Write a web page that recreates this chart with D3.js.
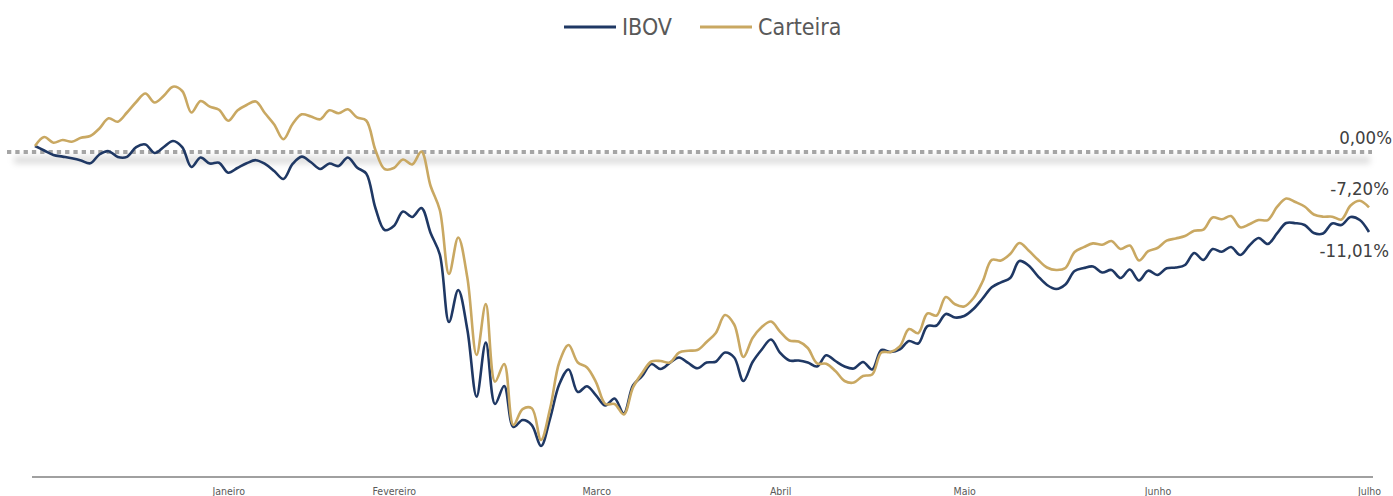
<!DOCTYPE html>
<html>
<head>
<meta charset="utf-8" />
<script src="https://d3js.org/d3.v7.min.js"></script>
<style>
  body { margin: 0; background: #fff; }
  svg text { font-family: "DejaVu Sans Condensed", "DejaVu Sans", sans-serif; font-stretch: condensed; }
</style>
</head>

<body>
<div id="chart"></div>

<script>
  // Dados (retorno acumulado em %, um ponto por pregao)
  // -----------------
  var series = ["IBOV", "Carteira"];

  var ibov = [
     0.82,  0.21, -0.41, -0.63, -0.86, -1.16, -1.55, -0.34,  0.11, -0.68,
    -0.66,  0.68,  1.03, -0.14,  0.68,  1.51,  0.68, -2.05, -0.75, -1.58,
    -1.48, -2.84, -2.19, -1.55, -1.12, -1.64, -2.60, -3.70, -1.64, -0.64,
    -1.41, -2.33, -1.58, -1.92, -0.75, -2.12, -2.95, -7.67,-10.68,-10.14,
    -8.15, -8.90, -7.67,-11.10,-14.04,-23.29,-18.90,-24.38,-33.52,-26.10,
   -34.52,-32.05,-37.67,-36.71,-37.40,-40.27,-36.44,-31.78,-29.79,-32.88,
   -32.08,-33.36,-34.73,-33.77,-35.82,-31.99,-30.68,-29.04,-29.73,-28.90,
   -28.15,-28.90,-29.63,-28.84,-28.73,-27.47,-28.15,-31.37,-28.77,-27.05,
   -25.68,-27.53,-28.56,-28.56,-28.84,-29.38,-27.84,-28.63,-29.38,-29.66,
   -28.77,-29.79,-27.12,-27.40,-27.05,-25.89,-26.23,-23.84,-23.77,-22.19,
   -22.67,-22.47,-21.51,-20.07,-18.53,-17.85,-17.26,-14.93,-15.55,-16.99,
   -18.22,-18.77,-18.15,-16.30,-15.89,-15.68,-16.51,-16.16,-17.26,-16.10,
   -17.60,-16.26,-16.85,-15.93,-15.82,-15.48,-13.84,-14.79,-13.29,-13.66,
   -13.01,-14.11,-12.81,-11.78,-12.60,-11.16, -9.73, -9.75,-10.00,-11.10,
   -11.16, -9.79,-10.00, -8.90, -9.32,-10.96
  ];

  var carteira = [
     0.82,  2.05,  1.27,  1.64,  1.41,  1.95,  2.19,  3.22,  4.62,  4.15,
     5.41,  6.85,  8.01,  6.78,  7.70,  8.95,  8.36,  5.41,  6.99,  6.21,
     5.79,  4.29,  5.68,  6.44,  6.92,  5.30,  3.77,  1.74,  3.84,  5.16,
     4.86,  4.48,  5.71,  5.30,  5.85,  4.73,  4.32,  0.27, -2.33, -2.19,
    -1.03, -1.71,  0.05, -4.66, -7.95,-16.71,-11.71,-17.26,-27.81,-20.82,
   -31.47,-29.04,-37.40,-35.21,-35.11,-39.45,-35.07,-28.77,-26.44,-28.84,
   -29.52,-31.58,-34.52,-34.52,-35.96,-32.26,-30.27,-28.70,-28.63,-28.84,
   -27.47,-27.23,-27.12,-26.03,-24.79,-22.33,-23.63,-28.08,-25.48,-23.97,
   -23.22,-24.63,-25.82,-25.97,-26.85,-28.95,-29.01,-30.00,-31.37,-31.58,
   -30.68,-30.48,-27.47,-27.40,-26.64,-24.25,-24.82,-22.12,-22.40,-19.86,
   -20.86,-21.16,-20.04,-17.74,-14.79,-14.86,-13.97,-12.47,-13.49,-14.73,
   -15.82,-16.16,-15.89,-13.70,-13.04,-12.52,-12.71,-12.19,-13.29,-12.81,
   -14.86,-13.59,-13.15,-12.15,-11.85,-11.51,-10.79,-10.62, -8.97, -9.22,
    -8.77,-10.32, -9.89, -9.32, -9.32, -7.53, -6.37, -6.85, -7.47, -8.56,
    -8.86, -8.86, -9.25, -7.33, -6.68, -7.60
  ];

  // ultimo pregao de cada mes (indice) e rotulos do eixo
  var meses    = ["Janeiro", "Fevereiro", "Marco", "Abril", "Maio", "Junho", "Julho"];
  var mesesDia = [21, 39, 61, 81, 101, 122, 145];

  // rotulos de fechamento
  var rotuloZero  = "0,00%";
  var rotulosFim  = ["-11,01%", "-7,20%"];

  var cores = ["#1f3864", "#c9a862"];

  //-------------------------------------------

  var w = 1393;
  var h = 496;

  var x = d3.scaleLinear()
            .domain([0, ibov.length - 1])
            .range([35, 1369]);

  var y = d3.scaleLinear()
            .domain([10, -42])
            .range([79, 458.6]);

  var svg = d3.select("#chart").append("svg")
              .attr("width", w)
              .attr("height", h);

  // a linha e horizontal (caixa com altura 0), entao o filtro usa userSpaceOnUse
  var defs = svg.append("defs");
  defs.append("filter")
      .attr("id", "sombra")
      .attr("filterUnits", "userSpaceOnUse")
      .attr("x", 0).attr("y", 0)
      .attr("width", w).attr("height", h)
      .append("feGaussianBlur")
      .attr("stdDeviation", 3);

  // linha do zero (pontilhada com sombra)
  var y0 = y(0);
  svg.append("line")
     .attr("x1", 14).attr("x2", 1370)
     .attr("y1", y0 + 8).attr("y2", y0 + 8)
     .attr("stroke", "#000")
     .attr("stroke-opacity", 0.14)
     .attr("stroke-width", 7)
     .attr("filter", "url(#sombra)");

  svg.append("line")
     .attr("x1", 7).attr("x2", 1372)
     .attr("y1", y0).attr("y2", y0)
     .attr("stroke", "#a5a5a5")
     .attr("stroke-width", 4)
     .attr("stroke-dasharray", "4.3,4");

  svg.append("text")
     .attr("x", 1392)
     .attr("y", y0 - 8)
     .attr("text-anchor", "end")
     .attr("fill", "#404040")
     .style("font-size", "18.5px")
     .text(rotuloZero);

  // eixo x
  var xAxis = d3.axisBottom(x)
                .tickValues(mesesDia)
                .tickFormat(function(d, i) { return meses[i]; })
                .tickSize(0)
                .tickPadding(11);

  var gx = svg.append("g")
              .attr("transform", "translate(0,477)")
              .call(xAxis);

  // a linha do eixo passa um pouco das pontas das series
  gx.select(".domain")
    .attr("d", "M" + (x.range()[0] - 3) + ",0H" + (x.range()[1] + 4))
    .attr("stroke", "#a0a0a0")
    .attr("stroke-width", 2);

  gx.selectAll("text")
    .attr("fill", "#595959")
    .style("font-size", "10.5px")
    .style("font-family", "'DejaVu Sans Condensed', 'DejaVu Sans', sans-serif");

  // linhas
  var linha = d3.line()
                .x(function(d, i) { return x(i); })
                .y(function(d) { return y(d); })
                .curve(d3.curveCatmullRom.alpha(0.5));

  var dados = [ibov, carteira];

  svg.selectAll("path.serie")
     .data(dados)
     .enter().append("path")
     .attr("class", "serie")
     .attr("fill", "none")
     .attr("stroke", function(d, i) { return cores[i]; })
     .attr("stroke-width", 2.6)
     .attr("stroke-linejoin", "round")
     .attr("d", linha);

  // rotulos finais: IBOV abaixo, Carteira acima
  svg.selectAll("text.fim")
     .data(dados)
     .enter().append("text")
     .attr("class", "fim")
     .attr("x", 1389)
     .attr("y", function(d, i) {
        var v = y(d[d.length - 1]);
        return i === 0 ? v + 25 : v - 12;
     })
     .attr("text-anchor", "end")
     .attr("fill", "#404040")
     .style("font-size", "18.5px")
     .text(function(d, i) { return rotulosFim[i]; });

  // legenda
  var leg = svg.append("g").attr("class", "legenda");
  var legX = [564, 700];

  series.forEach(function(s, i) {
    leg.append("line")
       .attr("x1", legX[i]).attr("x2", legX[i] + 52)
       .attr("y1", 27).attr("y2", 27)
       .attr("stroke", cores[i])
       .attr("stroke-width", 3);
    leg.append("text")
       .attr("x", legX[i] + 58)
       .attr("y", 35)
       .attr("fill", "#595959")
       .style("font-size", "23px")
       .text(s);
  });
</script>
</body>
</html>
